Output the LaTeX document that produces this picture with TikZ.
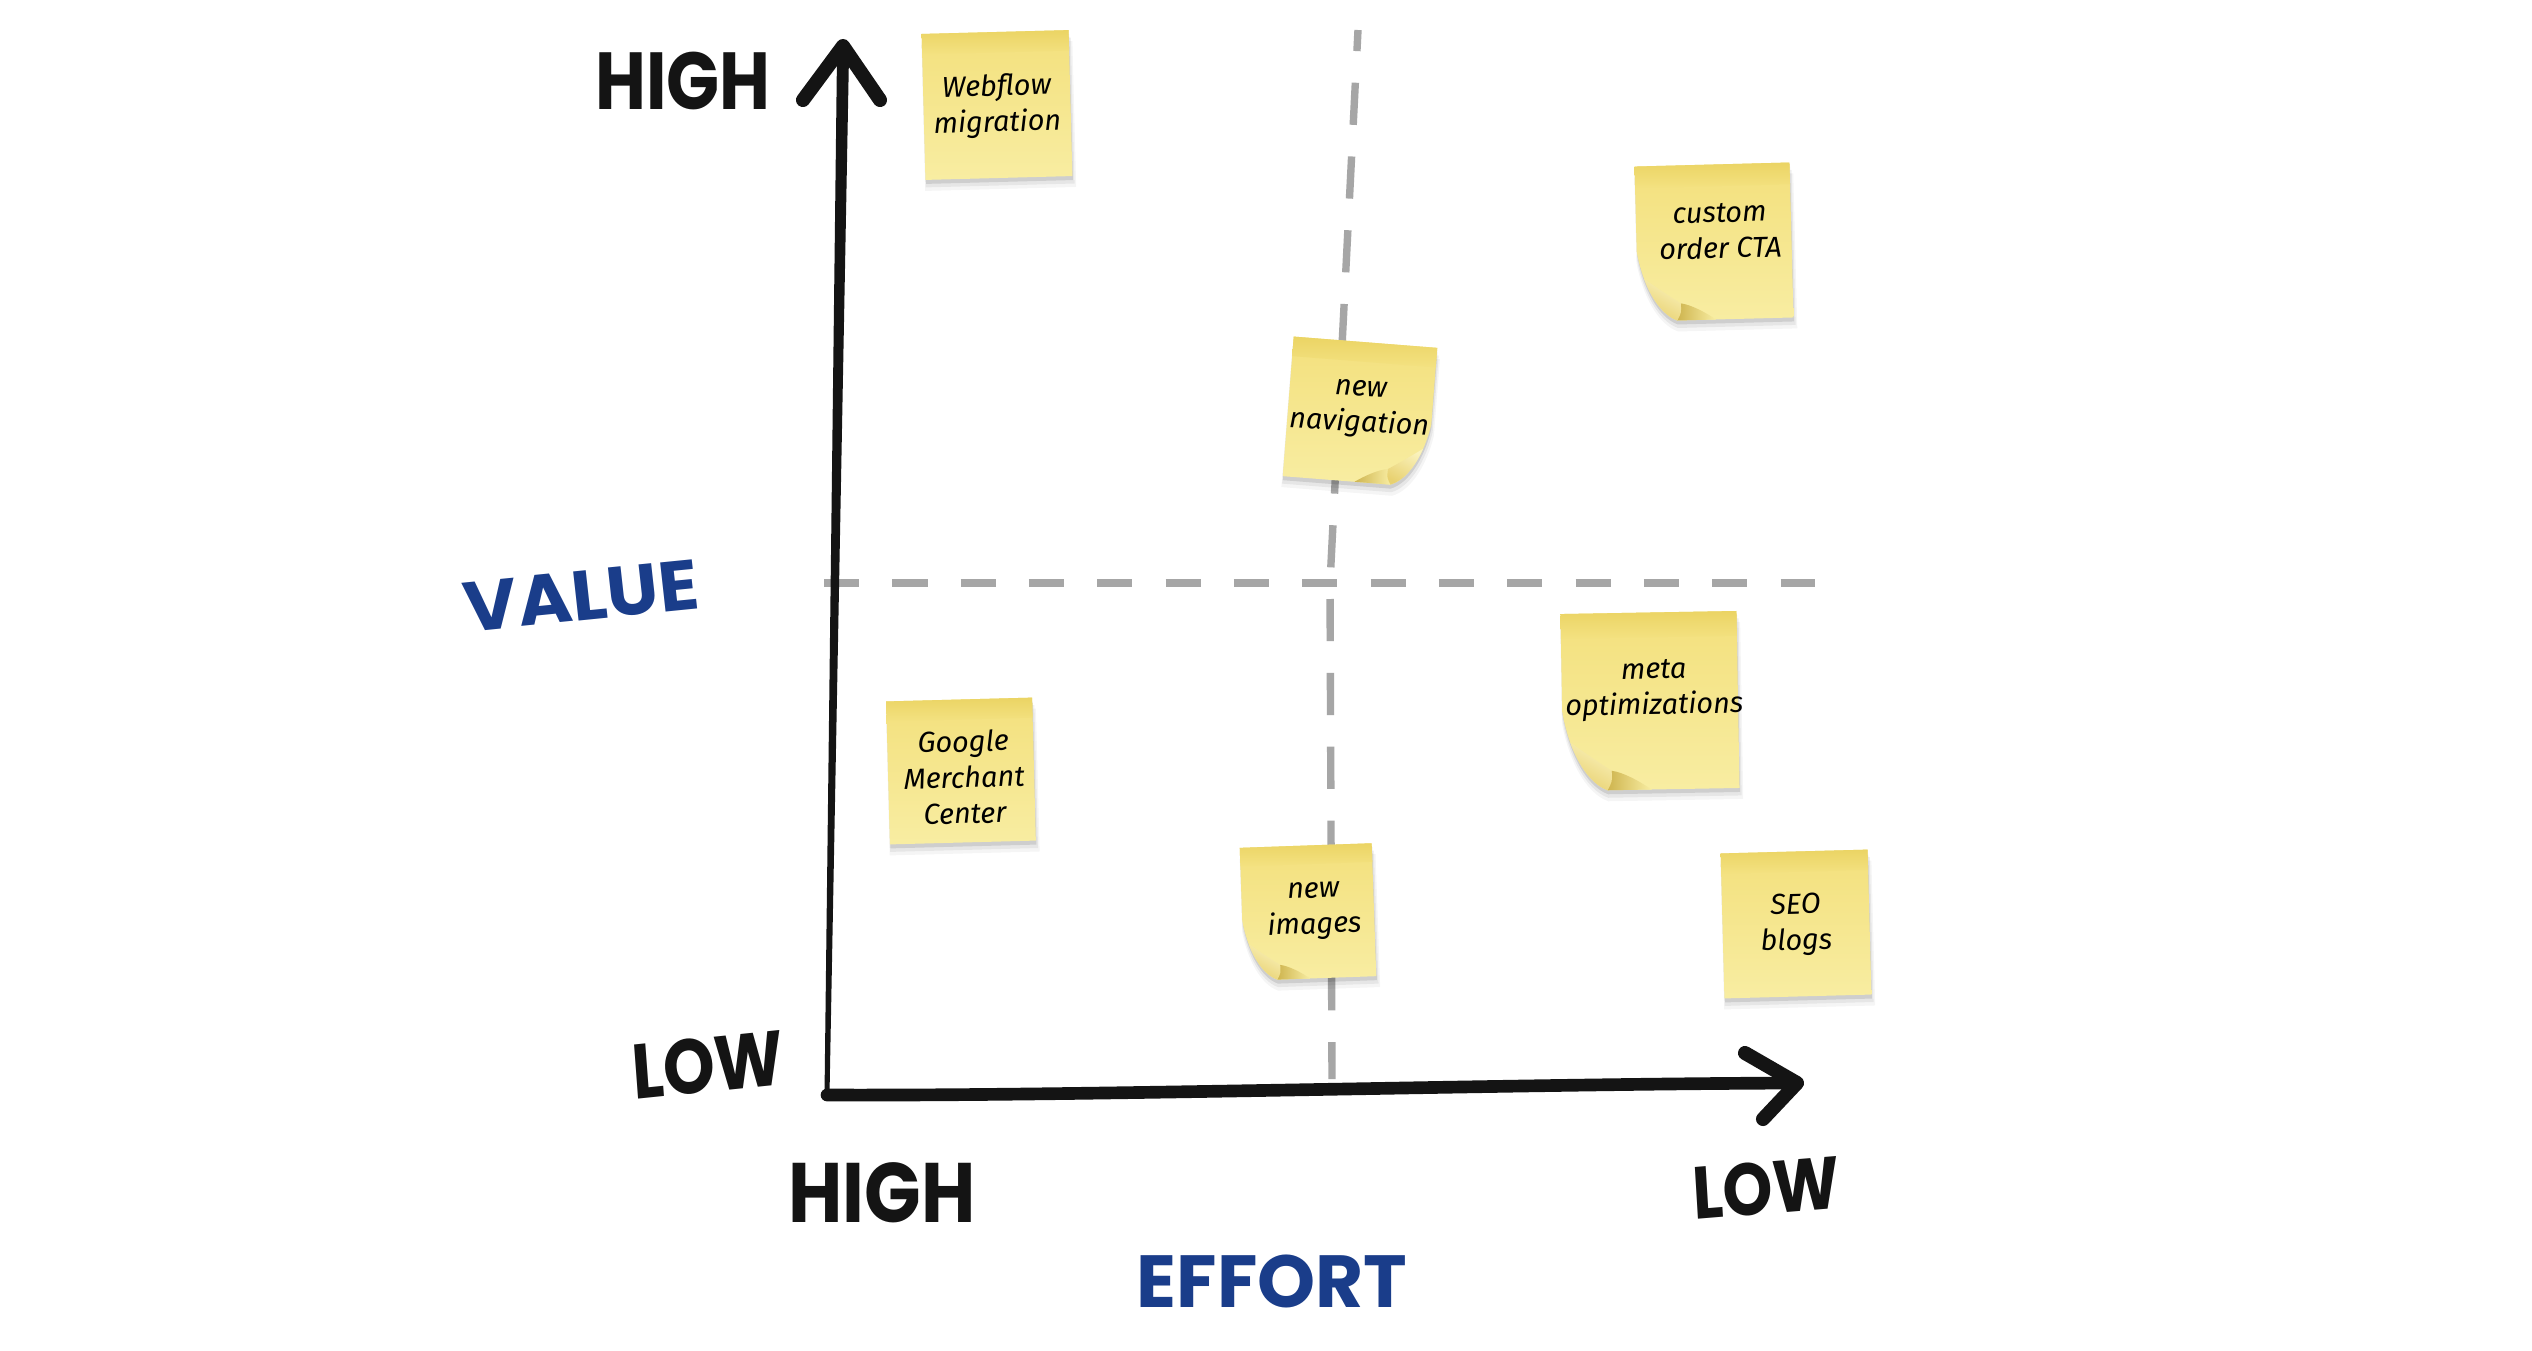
\documentclass[tikz,border=0pt]{standalone}
\usepackage{fontspec}
\newfontfamily\notefont{Fira Sans}
\newfontfamily\markfont{Poppins}
\usetikzlibrary{calc}
\definecolor{noteband}{HTML}{EBD464}
\definecolor{notemid}{HTML}{F3E07C}
\definecolor{notelight}{HTML}{F8EDA2}
\definecolor{noteflap}{HTML}{FAF2BC}
\definecolor{flapdark}{HTML}{E8D170}
\definecolor{notecrease}{HTML}{C2A640}
\definecolor{inkblue}{HTML}{1A3D8A}
\definecolor{dashgray}{HTML}{A6A6A6}
\tikzset{
  notetext/.style={font=\notefont\itshape\fontsize{8.2}{10.2}\selectfont, align=center, text=black, inner sep=0pt},
  marker/.style={text=black!92, inner sep=0pt},
  axisline/.style={line width=3.6pt, line cap=round, line join=round, draw=black!92},
  hquad/.style={draw=dashgray, line width=2.3pt, dash pattern=on 10pt off 9.43pt},
  vquad/.style={draw=dashgray, line width=2.1pt, dash pattern=on 12pt off 9pt, dash phase=6pt},
}
% #1 cx, #2 cy (image y), #3 w, #4 h, #5 angle, #6 curl: 0 none, 1 bottom-left, 2 bottom-right
\newcommand\stickynote[6]{%
  \begin{scope}[shift={(#1,-#2)}, rotate=#5]
    \ifcase#6 \def\mir{1}\or\def\mir{1}\or\def\mir{-1}\fi
    \ifnum#6=0
      \def\nb{(-0.5,0.5) rectangle (0.5,-0.5)}%
    \else
      \def\nb{(-0.5,0.5) -- (0.5,0.5) -- (0.5,-0.5) -- (-0.25,-0.5) .. controls (-0.38,-0.45) and (-0.47,-0.25) .. (-0.5,-0.05) -- cycle}%
    \fi
    \fill[black, opacity=0.04, shift={(1.5,-11)}, xscale=\mir*(#3+4), yscale=#4] \nb;
    \fill[black, opacity=0.06, shift={(1,-7.5)}, xscale=\mir*(#3+2), yscale=#4] \nb;
    \fill[black, opacity=0.10, shift={(0.5,-4)}, xscale=\mir*#3, yscale=#4] \nb;
    \shade[top color=notemid, bottom color=notelight, xscale=\mir*#3, yscale=#4] \nb;
    \shade[top color=noteband, bottom color=notemid!86!notelight, xscale=\mir*#3, yscale=#4] (-0.5,0.5) rectangle (0.5,0.36);
    \ifnum#6>0
      \shade[left color=notecrease!75!notemid, right color=notelight, xscale=\mir*#3, yscale=#4] (-0.25,-0.5) -- (-0.225,-0.39) .. controls (-0.16,-0.40) and (-0.07,-0.45) .. (0.0,-0.5) -- cycle;
      \shade[left color=noteflap, right color=flapdark, shading angle=-30, xscale=\mir*#3, yscale=#4] (-0.25,-0.5) .. controls (-0.341,-0.465) and (-0.412,-0.3565) .. (-0.457,-0.226) .. controls (-0.36,-0.30) and (-0.27,-0.36) .. (-0.225,-0.39) .. controls (-0.222,-0.45) .. (-0.25,-0.5) -- cycle;
    \fi
  \end{scope}%
}
\begin{document}
\begin{tikzpicture}[x=0.01cm, y=0.01cm]
\useasboundingbox[fill=white] (0,0) rectangle (2532,-1350);

% quadrant lines
\coordinate (vtop) at (1358,-30);
\coordinate (vmid) at (1330,-583);
\coordinate (vbot) at (1332,-1079);
\coordinate (hleft) at (824,-583);
\coordinate (hright) at (1815,-583);
\draw[vquad] (vtop) -- (vmid) -- (vbot);
\draw[hquad] (hleft) -- (hright);

% axes
\coordinate (origin) at (827,-1095);
\coordinate (ytip) at (843,-46);
\coordinate (xtip) at (1797,-1083);
\fill[black!92] (837,-55) -- (849,-55) -- (829.5,-1095) -- (824.5,-1095) -- cycle;
\draw[axisline, line width=4pt] (803,-100) -- (ytip) -- (880,-100);
\draw[axisline] (origin) .. controls (1100,-1096) and (1500,-1084) .. (xtip);
\draw[axisline, line width=4pt] (1745,-1053) -- (xtip) -- (1763,-1119);

% sticky notes
\stickynote{997}{105}{147}{146}{1.5}{0}
\node[notetext, rotate=1.5] (webflow) at (997,-106) {Webflow\\migration};
\stickynote{1714}{242}{155}{155}{1.5}{1}
\node[notetext, rotate=1.5] (cta) at (1720,-231) {custom\\order CTA};
\stickynote{1360}{412}{144}{140}{-4.5}{2}
\node[notetext, rotate=-3] (nav) at (1360,-409) {new\\navigation};
\stickynote{1650}{701}{176}{177}{1}{1}
\node[notetext, rotate=1] (meta) at (1654,-690) {meta\\optimizations};
\stickynote{961}{771}{146}{143}{1.5}{0}
\node[notetext, rotate=1.5] (gmc) at (964,-777) {Google\\Merchant\\Center};
\stickynote{1308}{912}{132}{133}{2}{1}
\node[notetext, rotate=2] (images) at (1314,-911) {new\\images};
\stickynote{1796}{924}{147}{145}{1.5}{0}
\node[notetext, rotate=1.5] (seo) at (1796,-925) {SEO\\blogs};

% axis labels
\node[marker, font=\markfont\bfseries\fontsize{23}{23}\selectfont, xscale=0.86] (yhigh) at (683,-81) {HIGH};
\node[marker, font=\markfont\bfseries\fontsize{22}{22}\selectfont, xscale=0.85, rotate=5] (ylow) at (708,-1065) {LOW};
\node[marker, font=\markfont\bfseries\fontsize{24}{24}\selectfont, xscale=0.88] (xhigh) at (882,-1193) {HIGH};
\node[marker, font=\markfont\bfseries\fontsize{21}{21}\selectfont, xscale=0.86, rotate=4] (xlow) at (1766,-1188) {LOW};
\node[marker, text=inkblue, font=\markfont\bfseries\fontsize{20}{20}\selectfont, xscale=1.05, rotate=6] (value) at (581,-596) {VALUE};
\node[marker, text=inkblue, font=\markfont\bfseries\fontsize{21}{21}\selectfont] (effort) at (1272,-1281) {EFFORT};
\end{tikzpicture}
\end{document}
